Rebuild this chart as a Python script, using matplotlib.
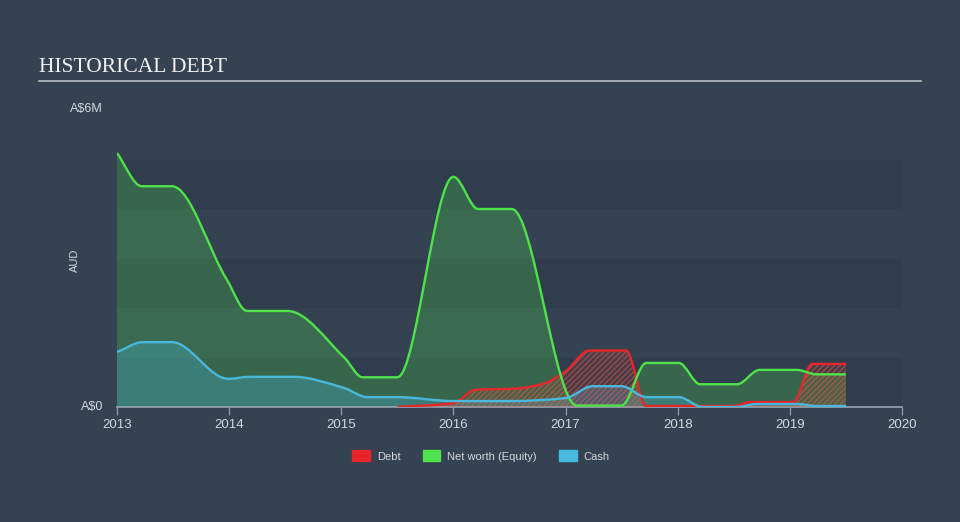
import numpy as np
import matplotlib.pyplot as plt
from matplotlib.path import Path
from matplotlib.patches import PathPatch, Patch

# dane (lata, miliony AUD)
equity_x = [2013.0, 2013.22, 2013.49, 2013.98, 2014.16, 2014.52, 2015.03, 2015.19, 2015.5,
            2016.0, 2016.22, 2016.52, 2017.1, 2017.5, 2017.72, 2018.01, 2018.2, 2018.53,
            2018.73, 2019.06, 2019.24, 2019.5]
equity_y = [5.13, 4.46, 4.46, 2.57, 1.94, 1.94, 0.99, 0.6, 0.6,
            4.65, 4.0, 4.0, 0.03, 0.03, 0.89, 0.89, 0.46, 0.46,
            0.75, 0.75, 0.66, 0.66]

cash_x = [2013.0, 2013.23, 2013.49, 2013.99, 2014.19, 2014.57, 2015.03, 2015.23, 2015.5,
          2016.0, 2016.5, 2017.0, 2017.24, 2017.5, 2017.72, 2018.01, 2018.22, 2018.53,
          2018.7, 2019.06, 2019.24, 2019.5]
cash_y = [1.11, 1.31, 1.31, 0.57, 0.61, 0.61, 0.38, 0.2, 0.2,
          0.12, 0.12, 0.18, 0.42, 0.42, 0.2, 0.2, 0.0, 0.0,
          0.06, 0.06, 0.02, 0.02]

debt_x = [2015.5, 2016.0, 2016.2, 2016.55, 2016.8, 2017.0, 2017.21, 2017.54, 2017.72,
          2018.5, 2018.65, 2019.03, 2019.2, 2019.5]
debt_y = [0.0, 0.08, 0.35, 0.37, 0.47, 0.72, 1.14, 1.14, 0.02,
          0.02, 0.1, 0.1, 0.87, 0.87]

years = [2013, 2014, 2015, 2016, 2017, 2018, 2019, 2020]

BG = '#344252'
BAND = '#303d4d'
GREEN = '#4fe24a'
BLUE = '#48b8dc'
RED = '#e8262a'
TXT = '#d3d8de'


def slopes(x, y):
    # monotoniczne styczne (Fritsch-Carlson)
    x = np.asarray(x, float)
    y = np.asarray(y, float)
    d = np.diff(y) / np.diff(x)
    m = np.zeros(len(x))
    m[0] = d[0]
    m[-1] = d[-1]
    for i in range(1, len(x) - 1):
        if d[i - 1] * d[i] <= 0:
            m[i] = 0
        else:
            h0 = x[i] - x[i - 1]
            h1 = x[i + 1] - x[i]
            w1 = 2 * h1 + h0
            w2 = h1 + 2 * h0
            m[i] = (w1 + w2) / (w1 / d[i - 1] + w2 / d[i])
    return m


def curve(x, y, closed=False):
    m = slopes(x, y)
    verts = [(x[0], y[0])]
    codes = [Path.MOVETO]
    for i in range(len(x) - 1):
        h = x[i + 1] - x[i]
        verts += [(x[i] + h / 3, y[i] + m[i] * h / 3),
                  (x[i + 1] - h / 3, y[i + 1] - m[i + 1] * h / 3),
                  (x[i + 1], y[i + 1])]
        codes += [Path.CURVE4] * 3
    if closed:
        verts += [(x[-1], 0), (x[0], 0), (x[0], y[0])]
        codes += [Path.LINETO, Path.LINETO, Path.CLOSEPOLY]
    return Path(verts, codes)


fig = plt.figure(figsize=(9.6, 5.22), dpi=100, facecolor=BG)
ax = fig.add_axes([117 / 960, 1 - 407 / 522, 785 / 960, 297 / 522])
ax.set_facecolor(BG)
ax.set_xlim(2013, 2020)
ax.set_ylim(0, 6)

for b in (0, 2, 4):
    ax.axhspan(b, b + 1, color=BAND, lw=0, zorder=0)

# net worth
ax.add_patch(PathPatch(curve(equity_x, equity_y, True), fc=GREEN, alpha=0.25, lw=0, zorder=1))
ax.add_patch(PathPatch(curve(equity_x, equity_y), fc='none', ec=GREEN, lw=1.7, zorder=4))
# cash
ax.add_patch(PathPatch(curve(cash_x, cash_y, True), fc=BLUE, alpha=0.3, lw=0, zorder=2))
ax.add_patch(PathPatch(curve(cash_x, cash_y), fc='none', ec=BLUE, lw=1.7, zorder=5))
# debt
plt.rcParams['hatch.linewidth'] = 0.8
ax.add_patch(PathPatch(curve(debt_x, debt_y, True), fc=(0.9, 0.2, 0.2, 0.15), ec=(0.92, 0.38, 0.28, 0.55),
                       hatch='//////', lw=0, zorder=3))
ax.add_patch(PathPatch(curve(debt_x, debt_y), fc='none', ec=RED, lw=1.7, zorder=3.5))

for s in ['top', 'right', 'left']:
    ax.spines[s].set_visible(False)
ax.spines['bottom'].set_color('#9aa5b3')
ax.spines['bottom'].set_linewidth(1.2)
ax.set_xticks(years)
ax.set_xticklabels([str(y) for y in years], fontsize=9.5, color=TXT, family='Liberation Sans')
ax.tick_params(axis='x', direction='out', length=6, color='#9aa5b3', pad=3)
ax.set_yticks([])

fig.text(103 / 960, 1 - 109 / 522, 'A$6M', ha='right', va='center', fontsize=9, color=TXT, family='Liberation Sans')
fig.text(103 / 960, 1 - 407 / 522, 'A$0', ha='right', va='center', fontsize=9, color=TXT, family='Liberation Sans')
fig.text(75 / 960, 1 - 260 / 522, 'AUD', ha='center', va='center', rotation=90, fontsize=8, color=TXT,
         family='Liberation Sans')

fig.text(39 / 960, 1 - 67 / 522, 'HISTORICAL DEBT', ha='left', va='center', fontsize=15.5, color='#f2f2f2',
         family='Liberation Serif')
fig.add_artist(plt.Line2D([39 / 960, 921 / 960], [1 - 81 / 522, 1 - 81 / 522], color='#b7bec7', lw=1.2))

handles = [Patch(color=RED, label='Debt'), Patch(color=GREEN, label='Net worth (Equity)'),
           Patch(color=BLUE, label='Cash')]
leg = fig.legend(handles=handles, loc='center', bbox_to_anchor=(481 / 960, 1 - 456 / 522), ncol=3,
                 frameon=False, handlelength=1.6, handleheight=1.1, columnspacing=2.0,
                 handletextpad=0.6, prop={'family': 'Liberation Sans', 'size': 8})
for t in leg.get_texts():
    t.set_color(TXT)

fig.savefig('out.png', dpi=100, facecolor=BG)
